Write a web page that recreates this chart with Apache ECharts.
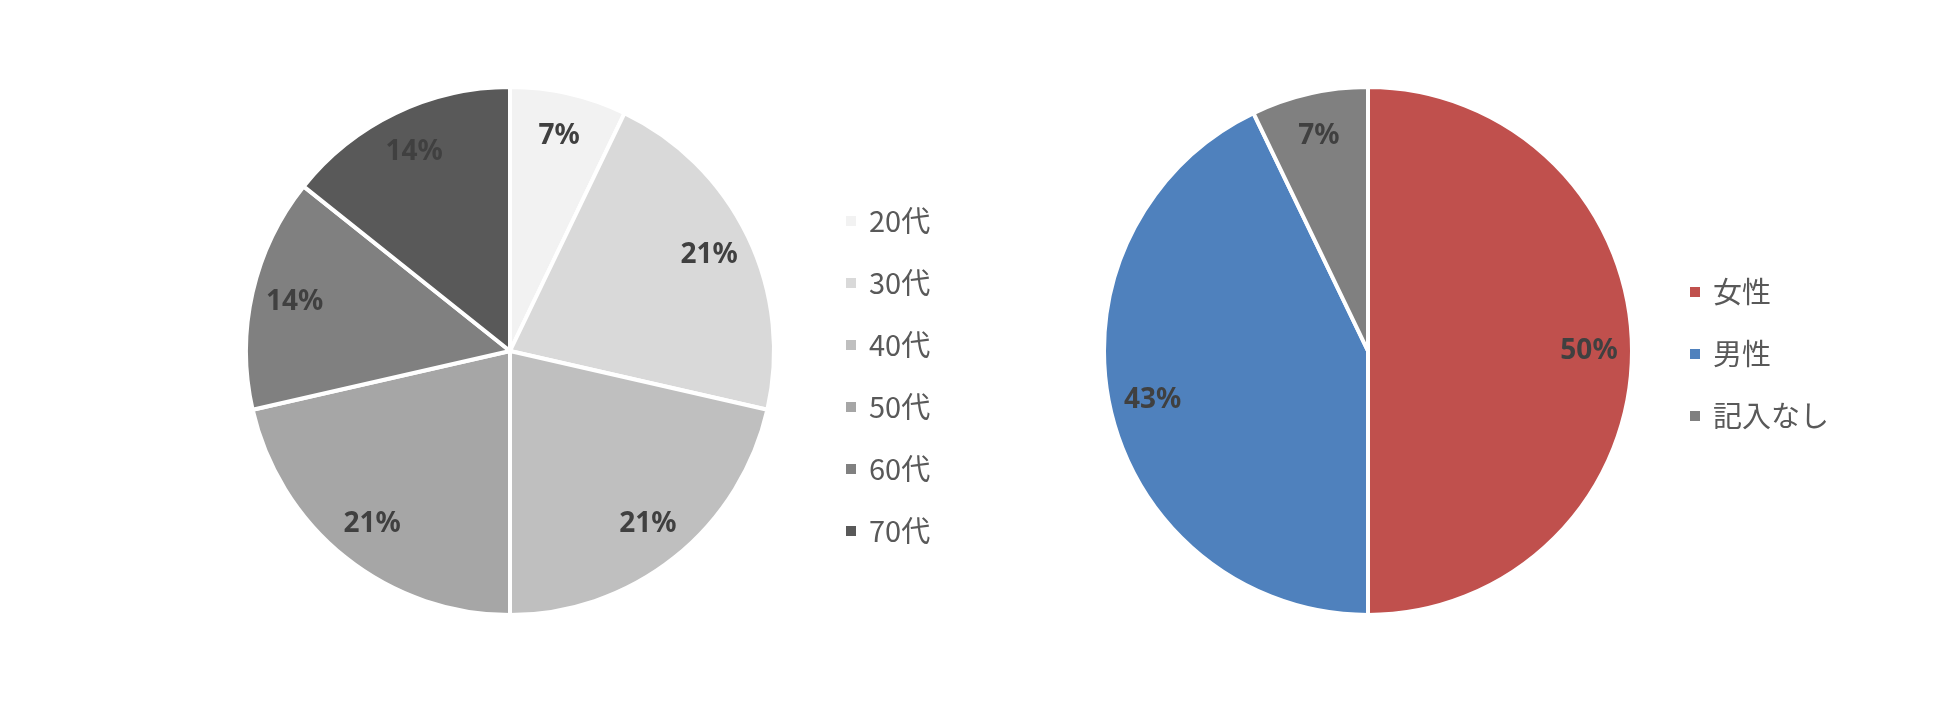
<!DOCTYPE html>
<html>
<head>
<meta charset="utf-8">
<script src="https://cdn.jsdelivr.net/npm/echarts@6/dist/echarts.min.js"></script>
<style>html,body{margin:0;padding:0;background:#fff}#c{width:1950px;height:701px}</style>
</head>
<body>
<div id="c"></div>
<script>
const ageCategories = ['20代', '30代', '40代', '50代', '60代', '70代'];
const ageValues = [1, 3, 3, 3, 2, 2];
const ageColors = ['#f2f2f2', '#d9d9d9', '#bfbfbf', '#a6a6a6', '#808080', '#595959'];

const genderCategories = ['女性', '男性', '記入なし'];
const genderValues = [7, 6, 1];
const genderColors = ['#c0504d', '#4f81bd', '#808080'];

function pctFormatter(values) {
  const total = values.reduce((a, b) => a + b, 0);
  return p => Math.round(p.value / total * 100) + '%';
}
function mainData(cats, vals, cols) {
  return cats.map((n, i) => ({ name: n, value: vals[i], itemStyle: { color: cols[i] } }));
}
function labelData(cats, vals) {
  return cats.map((n, i) => ({ name: n, value: vals[i] }));
}

const R = 264;
const labelStyle = {
  show: true, position: 'inside', color: '#404040', fontSize: 28,
  fontWeight: 'bold', fontFamily: 'Noto Sans'
};

function pieSeries(center, cats, vals, cols) {
  return [
    {
      type: 'pie', center: center, radius: [0, R], startAngle: 90, clockwise: true,
      silent: true, animation: false,
      itemStyle: { borderColor: '#ffffff', borderWidth: 4 },
      label: { show: false }, labelLine: { show: false },
      data: mainData(cats, vals, cols)
    },
    {
      type: 'pie', center: center, radius: [172, R], startAngle: 90, clockwise: true,
      silent: true, animation: false,
      itemStyle: { color: 'transparent', borderWidth: 0 },
      label: Object.assign({}, labelStyle, { formatter: pctFormatter(vals) }),
      labelLine: { show: false },
      data: labelData(cats, vals)
    }
  ];
}

const legendText = {
  color: '#595959', fontSize: 29, fontFamily: 'Noto Sans CJK JP', lineHeight: 30,
  padding: [0, 0, 0, 7]
};

const chart = echarts.init(document.getElementById('c'), null, { renderer: 'canvas' });
chart.setOption({
  backgroundColor: '#ffffff',
  animation: false,
  legend: [
    {
      data: ageCategories, orient: 'vertical', left: 844, top: 206, padding: 0,
      icon: 'rect', itemWidth: 12, itemHeight: 12, itemGap: 32,
      textStyle: legendText, selectedMode: false
    },
    {
      data: genderCategories, orient: 'vertical', left: 1688, top: 277, padding: 0,
      icon: 'rect', itemWidth: 12, itemHeight: 12, itemGap: 32,
      textStyle: legendText, selectedMode: false
    }
  ],
  series: [].concat(
    pieSeries([510, 351], ageCategories, ageValues, ageColors),
    pieSeries([1368, 351], genderCategories, genderValues, genderColors)
  )
});
</script>
</body>
</html>
